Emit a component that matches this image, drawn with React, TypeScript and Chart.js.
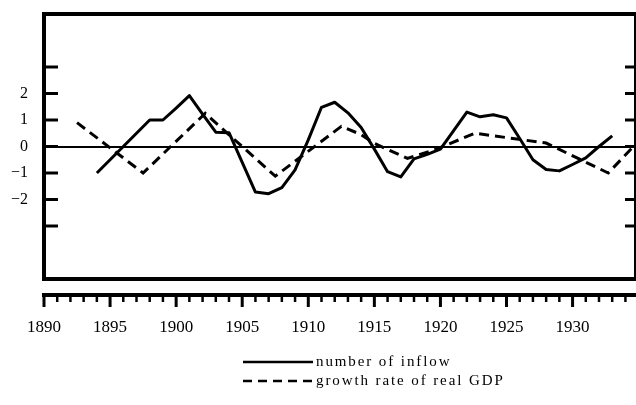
import React, { useEffect, useRef } from 'react';
import { Chart, registerables } from 'chart.js';

Chart.register(...registerables);

// ---- data ----
const inflowYears = [
  1894, 1895, 1896, 1897, 1898, 1899, 1900, 1901, 1902, 1903,
  1904, 1905, 1906, 1907, 1908, 1909, 1910, 1911, 1912, 1913,
  1914, 1915, 1916, 1917, 1918, 1919, 1920, 1921, 1922, 1923,
  1924, 1925, 1926, 1927, 1928, 1929, 1930, 1931, 1932, 1933,
];
const inflowValues = [
  -1.0, -0.5, 0.0, 0.5, 1.0, 1.0, 1.45, 1.92, 1.22, 0.54,
  0.52, -0.6, -1.72, -1.78, -1.55, -0.88, 0.25, 1.48, 1.67, 1.27,
  0.72, -0.1, -0.95, -1.15, -0.47, -0.3, -0.1, 0.6, 1.3, 1.12,
  1.2, 1.08, 0.3, -0.5, -0.87, -0.92, -0.68, -0.43, 0.0, 0.4,
];

const gdpYears = [1892.5, 1897.5, 1902.2, 1907.5, 1912.5, 1914, 1915, 1917.5, 1919.7, 1922.6, 1928, 1932.7, 1934.9];
const gdpValues = [0.9, -1.0, 1.25, -1.12, 0.76, 0.45, 0.12, -0.45, -0.1, 0.5, 0.13, -1.0, 0.15];

const seriesLabels = ['number of inflow', 'growth rate of real GDP'];

const xMin = 1890;
const xMax = 1934.8;
const xLabelYears = [1890, 1895, 1900, 1905, 1910, 1915, 1920, 1925, 1930];
const yMin = -5;
const yMax = 5;
const yTickValues = [-3, -2, -1, 0, 1, 2, 3];
const yLabelValues = [-2, -1, 0, 1, 2];

const SERIF = "'Liberation Serif', 'Times New Roman', serif";

const decorPlugin = {
  id: 'decor',
  afterDraw(chart: any) {
    const { ctx, chartArea: a } = chart;
    const x = chart.scales.x;
    const y = chart.scales.y;
    const line = (x1: number, y1: number, x2: number, y2: number) => {
      ctx.beginPath();
      ctx.moveTo(x1, y1);
      ctx.lineTo(x2, y2);
      ctx.stroke();
    };
    ctx.save();
    ctx.strokeStyle = '#000';
    ctx.fillStyle = '#000';
    ctx.lineCap = 'butt';

    // frame
    ctx.lineWidth = 4;
    ctx.strokeRect(a.left, a.top, a.right - a.left, a.bottom - a.top);

    // inward y ticks (left and right)
    ctx.lineWidth = 3;
    for (const v of yTickValues) {
      const py = y.getPixelForValue(v);
      line(a.left, py, a.left + 14, py);
      line(a.right - 11, py, a.right, py);
    }

    // separate x axis below the frame
    const axisY = a.bottom + 16;
    ctx.lineWidth = 4;
    line(a.left - 2, axisY, a.right, axisY);
    for (let yr = Math.ceil(x.min); yr <= x.max; yr++) {
      const px = x.getPixelForValue(yr);
      const major = yr % 5 === 0;
      ctx.lineWidth = major ? 3 : 2.5;
      line(px, axisY, px, axisY + (major ? 12 : 7));
    }

    // legend
    const rows = [362, 381];
    chart.data.datasets.forEach((ds: any, i: number) => {
      const ly = rows[i];
      ctx.lineWidth = 2.5;
      ctx.setLineDash(ds.borderDash && ds.borderDash.length ? [9, 6] : []);
      line(243, ly, 313, ly);
      ctx.setLineDash([]);
      ctx.font = `15px ${SERIF}`;
      (ctx as any).letterSpacing = '1.9px';
      ctx.textAlign = 'left';
      ctx.textBaseline = 'alphabetic';
      ctx.fillText(ds.label, 316, ly + 4);
    });
    ctx.restore();
  },
};

export default function App() {
  const ref = useRef<HTMLCanvasElement | null>(null);

  useEffect(() => {
    document.body.style.margin = '0';
    const canvas = ref.current;
    if (!canvas) return;
    const chart = new Chart(canvas, {
      type: 'line',
      data: {
        datasets: [
          {
            label: seriesLabels[0],
            data: inflowYears.map((yr, i) => ({ x: yr, y: inflowValues[i] })),
            borderColor: '#000',
            borderWidth: 3,
            pointRadius: 0,
            tension: 0,
            fill: false,
            borderJoinStyle: 'round',
          },
          {
            label: seriesLabels[1],
            data: gdpYears.map((yr, i) => ({ x: yr, y: gdpValues[i] })),
            borderColor: '#000',
            borderWidth: 3,
            borderDash: [10, 6],
            pointRadius: 0,
            tension: 0,
            fill: false,
          },
        ],
      },
      options: {
        responsive: false,
        animation: false,
        devicePixelRatio: 1,
        layout: { padding: { top: 14, left: 0, right: 0, bottom: 0 } },
        plugins: { legend: { display: false }, tooltip: { enabled: false } },
        scales: {
          x: {
            type: 'linear',
            min: xMin,
            max: xMax,
            afterFit: (s: any) => {
              s.height = 126;
              s.paddingLeft = 0;
              s.paddingRight = 0;
              s.paddingTop = 0;
              s.paddingBottom = 0;
            },
            afterBuildTicks: (s: any) => { s.ticks = xLabelYears.map((v) => ({ value: v })); },
            grid: { display: false, drawTicks: false },
            border: { display: false },
            ticks: {
              padding: 38,
              color: '#000',
              font: { family: SERIF, size: 17 },
              maxRotation: 0,
              autoSkip: false,
              callback: (v: any) => String(v),
            },
          },
          y: {
            type: 'linear',
            min: yMin,
            max: yMax,
            afterFit: (s: any) => {
              s.width = 44;
              s.paddingTop = 0;
              s.paddingBottom = 0;
              s.paddingLeft = 0;
              s.paddingRight = 0;
            },
            afterBuildTicks: (s: any) => { s.ticks = yTickValues.map((v) => ({ value: v })); },
            grid: {
              drawTicks: false,
              lineWidth: 2,
              color: (c: any) => (c.tick && c.tick.value === 0 ? '#000' : 'rgba(0,0,0,0)'),
            },
            border: { display: false },
            ticks: {
              padding: 16,
              color: '#000',
              font: { family: SERIF, size: 16 },
              callback: (v: any) =>
                yLabelValues.includes(v) ? (v < 0 ? '\u2212' + Math.abs(v) : String(v)) : '',
            },
          },
        },
      },
      plugins: [decorPlugin],
    } as any);
    return () => chart.destroy();
  }, []);

  return (
    <div style={{ position: 'absolute', left: 0, top: 0, width: 636, height: 405, background: '#fff' }}>
      <canvas ref={ref} width={636} height={405} style={{ display: 'block' }} />
    </div>
  );
}
